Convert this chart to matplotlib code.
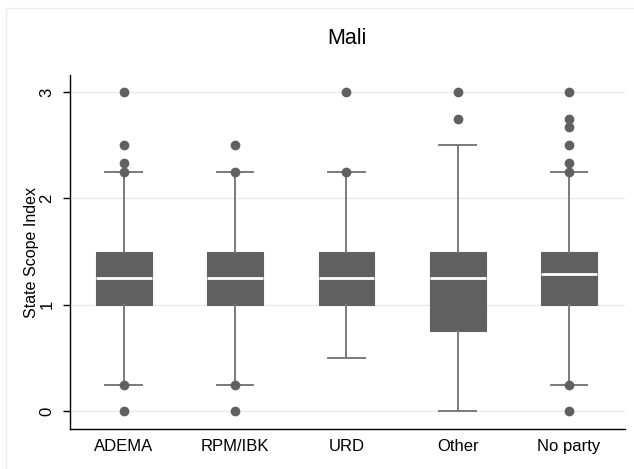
import matplotlib
matplotlib.use('Agg')
import matplotlib.pyplot as plt
from matplotlib.patches import Rectangle

plt.rcParams.update({
    'font.family': ['Liberation Sans', 'DejaVu Sans'],
    'font.size': 10,
})

# ── data ──
PARTIES = ['ADEMA', 'RPM/IBK', 'URD', 'Other', 'No party']
Q1 = [1.0, 1.0, 1.0, 0.75, 1.0]
MEDIAN = [1.25, 1.25, 1.25, 1.25, 1.29]
Q3 = [1.5, 1.5, 1.5, 1.5, 1.5]
WHIS_LO = [0.25, 0.25, 0.5, 0.0, 0.25]
WHIS_HI = [2.25, 2.25, 2.25, 2.5, 2.25]
OUTLIERS = [
    [3.0, 2.5, 2.33, 2.25, 0.25, 0.0],
    [2.5, 2.25, 0.25, 0.0],
    [3.0, 2.25],
    [3.0, 2.75],
    [3.0, 2.75, 2.67, 2.5, 2.33, 2.25, 0.25, 0.0],
]

BOX_COLOR = '#606060'
WHISK_COLOR = '#7a7a7a'

fig = plt.figure(figsize=(6.34, 4.69), dpi=100)
ax = fig.add_axes([0.110, 0.085, 0.876, 0.755])

# faint outer frame (Stata graph region)
fig.patches.append(Rectangle((6 / 634, -0.1), 1.2, 1 - 8 / 469 + 0.1,
                             transform=fig.transFigure, fill=False,
                             edgecolor='#ececec', linewidth=1, zorder=0))

stats = []
for i, name in enumerate(PARTIES):
    stats.append({'label': name, 'q1': Q1[i], 'med': MEDIAN[i], 'q3': Q3[i],
                  'whislo': WHIS_LO[i], 'whishi': WHIS_HI[i],
                  'fliers': OUTLIERS[i]})

ax.bxp(stats, positions=range(1, len(PARTIES) + 1), widths=0.5,
       patch_artist=True, showfliers=True,
       boxprops=dict(facecolor=BOX_COLOR, edgecolor=BOX_COLOR, linewidth=0.8),
       medianprops=dict(color='white', linewidth=2),
       whiskerprops=dict(color=WHISK_COLOR, linewidth=1.4),
       capprops=dict(color=WHISK_COLOR, linewidth=1.4),
       capwidths=0.33,
       flierprops=dict(marker='o', markerfacecolor=BOX_COLOR,
                       markeredgecolor=BOX_COLOR, markersize=6))

ax.set_xlim(0.515, 5.503)
ax.set_ylim(-0.169, 3.16)
ax.set_yticks([0, 1, 2, 3])
ax.set_yticklabels(['0', '1', '2', '3'], rotation=90, va='center')
ax.yaxis.grid(True, color='#eaeaea', linewidth=1)
ax.set_axisbelow(True)
ax.tick_params(axis='x', length=0, labelsize=12, pad=7)
ax.tick_params(axis='y', length=5, width=1, labelsize=12, pad=6)
for s in ['top', 'right']:
    ax.spines[s].set_visible(False)
ax.spines['left'].set_linewidth(1)
ax.spines['bottom'].set_linewidth(1)

ax.set_ylabel('State Scope Index', fontsize=11.5, labelpad=0)
ax.set_title('Mali', fontsize=15.5, pad=22)

fig.savefig('out.png', dpi=100)
